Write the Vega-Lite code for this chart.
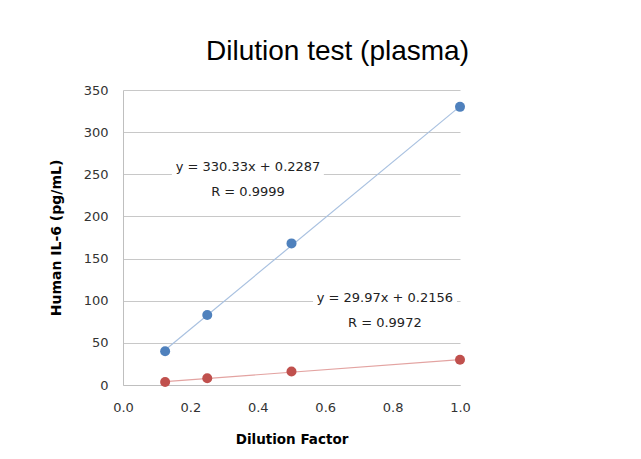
{
  "$schema": "https://vega.github.io/schema/vega-lite/v6.json",
  "autosize": "none",
  "width": 337,
  "height": 295,
  "padding": {"left": 123, "top": 90, "right": 181, "bottom": 74},
  "background": "white",
  "title": {
    "text": "Dilution test (plasma)",
    "font": "Liberation Sans",
    "fontSize": 28,
    "fontWeight": "normal",
    "color": "#000000",
    "anchor": "middle",
    "dx": 46,
    "offset": 18
  },
  "config": {
    "view": {"stroke": null},
    "axis": {
      "labelFont": "DejaVu Sans",
      "labelFontSize": 13,
      "labelColor": "#333333",
      "labelFlush": false,
      "titleFont": "DejaVu Sans",
      "titleFontWeight": "bold",
      "titleFontSize": 13,
      "titleColor": "#000000",
      "domainColor": "#bfbfbf",
      "gridColor": "#c8c8c8",
      "ticks": false
    }
  },
  "datasets": {
    "points": [
      {"factor": 0.125, "value": 40, "series": "A"},
      {"factor": 0.25, "value": 83, "series": "A"},
      {"factor": 0.5, "value": 168, "series": "A"},
      {"factor": 1.0, "value": 330, "series": "A"},
      {"factor": 0.125, "value": 3.5, "series": "B"},
      {"factor": 0.25, "value": 8, "series": "B"},
      {"factor": 0.5, "value": 16, "series": "B"},
      {"factor": 1.0, "value": 30, "series": "B"}
    ],
    "trend": [
      {"factor": 0.125, "value": 41.52, "series": "A"},
      {"factor": 1.0, "value": 330.56, "series": "A"},
      {"factor": 0.125, "value": 3.96, "series": "B"},
      {"factor": 1.0, "value": 30.19, "series": "B"}
    ],
    "boxes": [
      {"x1": 0.145, "x2": 0.596, "y1": 238, "y2": 262},
      {"x1": 0.564, "x2": 0.991, "y1": 90, "y2": 112}
    ],
    "labels": [
      {"x": 0.371, "y": 258.6, "label": "y = 330.33x + 0.2287"},
      {"x": 0.371, "y": 229.5, "label": "R = 0.9999"},
      {"x": 0.777, "y": 103.2, "label": "y = 29.97x + 0.2156"},
      {"x": 0.777, "y": 73.8, "label": "R = 0.9972"}
    ]
  },
  "layer": [
    {
      "data": {"name": "boxes"},
      "mark": {"type": "rect", "fill": "white", "stroke": null},
      "encoding": {
        "x": {
          "field": "x1", "type": "quantitative",
          "scale": {"domain": [0, 1]},
          "axis": {
            "values": [0, 0.2, 0.4, 0.6, 0.8, 1.0],
            "format": ".1f",
            "grid": false,
            "labelPadding": 16,
            "title": "Dilution Factor",
            "titleFontSize": 13.5,
            "titlePadding": 18
          }
        },
        "x2": {"field": "x2"},
        "y": {
          "field": "y1", "type": "quantitative",
          "scale": {"domain": [0, 350]},
          "axis": {
            "values": [0, 50, 100, 150, 200, 250, 300, 350],
            "grid": true,
            "labelPadding": 15,
            "title": "Human IL-6  (pg/mL)",
            "titleFontSize": 14,
            "titlePadding": 20
          }
        },
        "y2": {"field": "y2"}
      }
    },
    {
      "data": {"name": "trend"},
      "mark": {"type": "line", "strokeWidth": 1.2},
      "encoding": {
        "x": {"field": "factor", "type": "quantitative"},
        "y": {"field": "value", "type": "quantitative"},
        "detail": {"field": "series"},
        "color": {
          "field": "series", "type": "nominal",
          "scale": {"domain": ["A", "B"], "range": ["#a9c1e0", "#e3a3a1"]},
          "legend": null
        }
      }
    },
    {
      "data": {"name": "points"},
      "mark": {"type": "point", "filled": true, "opacity": 1, "size": 100},
      "encoding": {
        "x": {"field": "factor", "type": "quantitative"},
        "y": {"field": "value", "type": "quantitative"},
        "fill": {
          "field": "series", "type": "nominal",
          "scale": {"domain": ["A", "B"], "range": ["#4f81bd", "#c0504d"]},
          "legend": null
        }
      }
    },
    {
      "data": {"name": "labels"},
      "mark": {"type": "text", "font": "DejaVu Sans", "fontSize": 13, "color": "#222222", "align": "center", "baseline": "middle"},
      "encoding": {
        "x": {"field": "x", "type": "quantitative"},
        "y": {"field": "y", "type": "quantitative"},
        "text": {"field": "label"}
      }
    }
  ]
}
